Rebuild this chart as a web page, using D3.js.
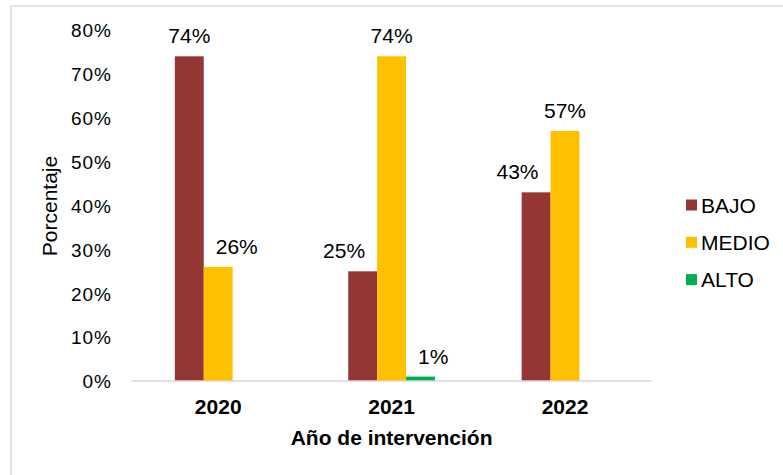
<!DOCTYPE html>
<html>
<head>
<meta charset="utf-8">
<script src="https://cdn.jsdelivr.net/npm/d3@7"></script>
<style>
  html, body { margin: 0; padding: 0; background: #fff; }
  svg { display: block; font-family: "Liberation Sans", Arial, Helvetica, sans-serif; }
</style>
</head>
<body>
<svg id="chart" width="783" height="475"></svg>
<script>
// Nivel alcanzado por año de intervención (proporciones)
const years = ["2020", "2021", "2022"];
const levels = ["BAJO", "MEDIO", "ALTO"];
const bajo = [0.74, 0.25, 0.43];
const medio = [0.26, 0.74, 0.57];
const alto = [0.00, 0.01, 0.00];
const yTicks = [0, 0.1, 0.2, 0.3, 0.4, 0.5, 0.6, 0.7, 0.8];

const seriesValues = { BAJO: bajo, MEDIO: medio, ALTO: alto };
const colors = { BAJO: "#943634", MEDIO: "#FFC000", ALTO: "#00B050" };

const svg = d3.select("#chart");
const W = 783, H = 475;
const plot = { left: 131.5, right: 651.7, top: 30, bottom: 381 };

// frame lines along the top and left
svg.append("line").attr("x1", 11).attr("x2", W).attr("y1", 6).attr("y2", 6)
  .attr("stroke", "#e3e3e3").attr("stroke-width", 2);
svg.append("line").attr("x1", 11).attr("x2", 11).attr("y1", 6).attr("y2", H)
  .attr("stroke", "#e3e3e3").attr("stroke-width", 2);

const x0 = d3.scaleBand().domain(years).range([plot.left, plot.right])
  .paddingInner(0.5).paddingOuter(0.25);
const x1 = d3.scaleBand().domain(levels).range([0, x0.bandwidth()]).padding(0);
const y = d3.scaleLinear().domain([0, 0.8]).range([plot.bottom, plot.top]);

// y axis: labels only
const yAxis = d3.axisLeft(y).tickValues(yTicks).tickFormat(d3.format(".0%")).tickSize(0).tickPadding(0);
const yg = svg.append("g").attr("transform", `translate(112,0)`).call(yAxis);
yg.select(".domain").remove();
yg.selectAll("text").attr("font-size", 19).attr("fill", "#000")
  .attr("font-family", "Liberation Sans, Arial, sans-serif")
  .style("letter-spacing", "1px").attr("dy", "0.36em");

// bars
const rows = [];
years.forEach((yr, i) => levels.forEach(lv => rows.push({ year: yr, level: lv, value: seriesValues[lv][i] })));

const groups = svg.append("g");
groups.selectAll("rect").data(rows).join("rect")
  .attr("x", d => x0(d.year) + x1(d.level))
  .attr("y", d => y(d.value))
  .attr("width", x1.bandwidth())
  .attr("height", d => y(0) - y(d.value))
  .attr("fill", d => colors[d.level]);

// x axis baseline
svg.append("line").attr("x1", plot.left).attr("x2", plot.right)
  .attr("y1", y(0)).attr("y2", y(0)).attr("stroke", "#d9d9d9").attr("stroke-width", 1.5);

// category labels
const xAxis = d3.axisBottom(x0).tickSize(0).tickPadding(0);
const xg = svg.append("g").attr("transform", `translate(0,414)`).call(xAxis);
xg.select(".domain").remove();
xg.selectAll("text").attr("font-size", 21).attr("font-weight", "bold").attr("fill", "#000")
  .attr("font-family", "Liberation Sans, Arial, sans-serif").attr("dy", 0);

// data labels, nudged sideways when they would collide with a taller neighbouring bar
const gap = 12;
const labelled = rows.filter(d => d.value > 0);
const labels = svg.append("g").selectAll("text").data(labelled).join("text")
  .attr("font-size", 21).attr("fill", "#000").attr("text-anchor", "middle")
  .attr("y", d => y(d.value) - 13)
  .text(d => d3.format(".0%")(d.value));

labels.each(function(d) {
  const w = this.getComputedTextLength();
  const left0 = x0(d.year) + x1(d.level);
  let cx = left0 + x1.bandwidth() / 2;
  const idx = levels.indexOf(d.level);
  const yi = years.indexOf(d.year);
  const top = y(d.value) - 13 - 15;
  if (idx > 0) {
    const nb = levels[idx - 1];
    const nbTop = y(seriesValues[nb][yi]);
    const nbRight = x0(d.year) + x1(nb) + x1.bandwidth();
    if (nbTop < top + 15 && cx - w / 2 < nbRight) cx = nbRight + gap + w / 2;
  }
  if (idx < levels.length - 1) {
    const nb = levels[idx + 1];
    const nbTop = y(seriesValues[nb][yi]);
    const nbLeft = x0(d.year) + x1(nb);
    if (nbTop < top + 15 && cx + w / 2 > nbLeft) cx = nbLeft - gap - w / 2;
  }
  d3.select(this).attr("x", cx);
});

// axis titles
svg.append("text").attr("x", (plot.left + plot.right) / 2).attr("y", 445)
  .attr("text-anchor", "middle").attr("font-size", 21).attr("font-weight", "bold")
  .text("Año de intervención");
svg.append("text").attr("transform", `translate(57,206) rotate(-90)`)
  .attr("text-anchor", "middle").attr("font-size", 21)
  .text("Porcentaje");

// legend
const legend = svg.append("g").attr("transform", "translate(686,205)");
const li = legend.selectAll("g").data(levels).join("g")
  .attr("transform", (d, i) => `translate(0,${i * 37.3})`);
li.append("rect").attr("x", 0).attr("y", -5.5).attr("width", 11).attr("height", 11)
  .attr("fill", d => colors[d]);
li.append("text").attr("x", 15).attr("y", 7.5).attr("font-size", 21).attr("fill", "#000").text(d => d);
</script>
</body>
</html>
